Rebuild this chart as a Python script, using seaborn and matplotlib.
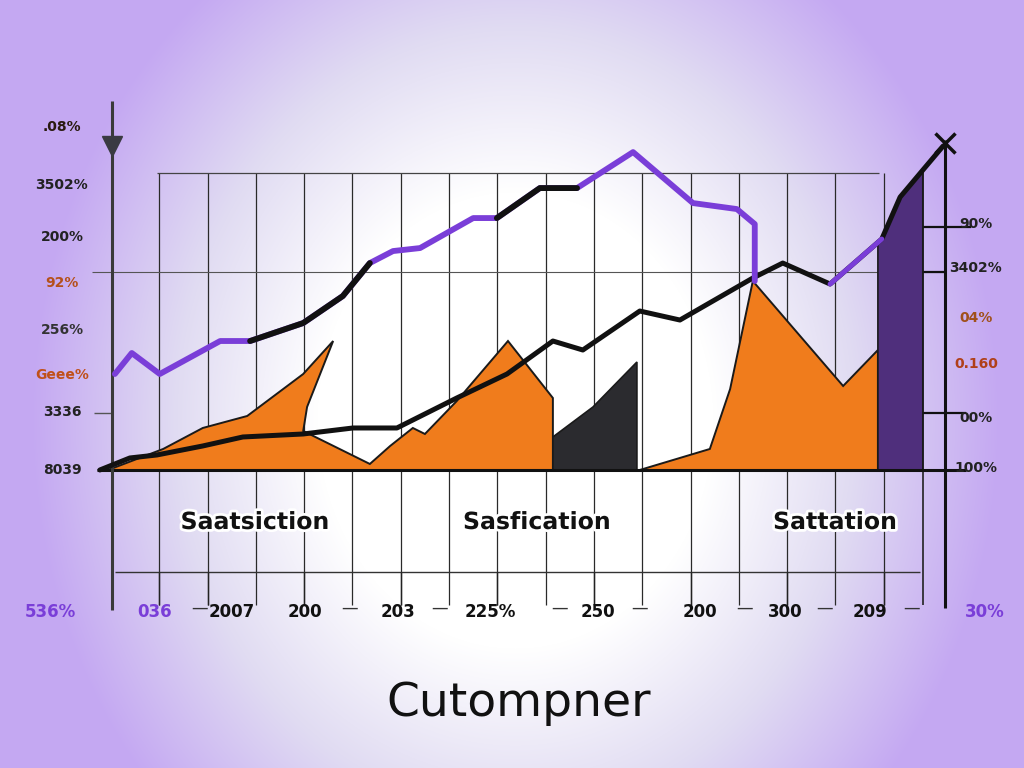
import numpy as np
import matplotlib.pyplot as plt
import matplotlib.patheffects as pe
import seaborn as sns

# ---- data ----
# upper line, mostly purple
line_a_x = [0.08, 0.43, 1.01, 2.26, 2.88, 3.98, 4.80, 5.36, 5.84, 6.40, 7.50, 7.99,
            8.88, 9.65, 10.81, 12.05, 12.96, 13.33, 13.33]
line_a_y = [32, 39, 32, 43, 43, 49, 58, 69, 73, 74, 84, 84, 94, 94, 106, 89, 87, 82, 63]
# lower black line
line_b_x = [-0.23, 0.39, 0.95, 1.90, 2.73, 3.98, 5.01, 5.92, 7.16, 8.20, 9.15, 9.77,
            10.95, 11.78, 13.29, 13.91, 14.89, 15.96, 16.34, 16.81, 17.23]
line_b_y = [0, 4, 5, 8, 11, 12, 14, 14, 24, 32, 43, 40, 53, 50, 64, 69, 62, 77, 91, 100, 108]

# filled areas
orange1_x = [-0.06, 1.08, 1.90, 2.82, 3.98, 4.60, 4.06, 3.98, 5.36, 5.78, 6.25, 6.50,
             7.16, 8.22, 9.15, 9.15]
orange1_y = [0, 7, 14, 18, 32, 43, 21, 13, 2, 8, 14, 12, 23, 43, 24, 0]
grey_x = [9.15, 9.98, 10.89, 10.89, 9.15]
grey_y = [11, 21, 36, 0, 0]
orange2_x = [10.95, 12.40, 12.82, 13.29, 15.16, 15.88, 15.88]
orange2_y = [0, 7, 27, 63, 28, 40, 0]
violet_x = [15.88, 15.88, 15.96, 16.34, 16.81, 16.81]
violet_y = [0, 76, 77, 91, 100, 0]

left_labels = [".08%", "3502%", "200%", "92%", "256%", "Geee%", "3336", "8039"]
right_labels = ["90%", "3402%", "04%", "0.160", "00%", "100%"]
bottom_labels = ["536%", "036", "2007", "200", "203", "225%", "250", "200", "300", "209", "30%"]
section_labels = ["Saatsiction", "Sasfication", "Sattation"]
title = "Cutompner"

ORANGE = "#f07c1c"
PURPLE = "#7a3ed8"
DARK_VIOLET = "#4f2f7c"

sns.set_theme(style="white")
plt.rcParams['font.family'] = ['DejaVu Sans']

fig = plt.figure(figsize=(10.24, 7.68), dpi=100)

# radial lavender background: white centre, greyish lavender, then lilac edges
bg = fig.add_axes([0, 0, 1, 1])
X, Y = np.meshgrid(np.arange(1024), np.arange(768))
r = np.sqrt(((X - 515) / 520.0) ** 2 + ((Y - 420) / 600.0) ** 2)
t = np.clip((r - 0.38) / 0.55, 0, 1)[..., None]
mid = np.array([0.88, 0.86, 0.95])
lav = np.array([0.77, 0.66, 0.95])
t1 = np.clip(t * 2, 0, 1)
t2 = np.clip(t * 2 - 1, 0, 1)
img = (1 - t1) * np.ones(3) + t1 * mid
img = (1 - t2) * img + t2 * lav
bg.imshow(img, extent=[0, 1024, 768, 0], aspect='auto')
bg.set_xlim(0, 1024)
bg.set_ylim(768, 0)
bg.axis('off')

# main axes: pixel 90..960 horizontally, 120..640 vertically
ax = fig.add_axes([90 / 1024, 128 / 768, 870 / 1024, 520 / 768])
ax.patch.set_alpha(0)
ax.set_xlim(-0.435, 17.58)
ax.set_ylim(-56.7, 116.7)
for s in ax.spines.values():
    s.set_visible(False)
ax.set_xticks([])
ax.set_yticks([])

# grid
ax.vlines(range(1, 17), -45, 99, color="#2a2a2a", lw=0.9, zorder=1)
ax.vlines(16.82, -45, 101, color="#222", lw=1.2, zorder=1)
ax.hlines(99, 0.95, 15.9, color="#444", lw=0.9, zorder=1)
ax.hlines(66, -0.4, 17.27, color="#555", lw=0.8, zorder=1)
ax.hlines(-34, 0.08, 16.75, color="#333", lw=1.0, zorder=1)
ax.hlines(19, -0.35, 0.02, color="#555", lw=1.0, zorder=1)
for yy, x1 in [(81, 17.8), (66, 17.27), (19, 17.7)]:
    ax.hlines(yy, 16.82, x1, color="#111", lw=1.6, zorder=1, clip_on=False)

# fills
ax.fill(orange1_x, orange1_y, facecolor=ORANGE, edgecolor="#1a1a1a", lw=1.4, zorder=2)
ax.fill(grey_x, grey_y, facecolor="#2b2b2f", edgecolor="#1a1a1a", lw=1.2, zorder=2)
ax.fill(orange2_x, orange2_y, facecolor=ORANGE, edgecolor="#1a1a1a", lw=1.4, zorder=2)
ax.fill(violet_x, violet_y, facecolor=DARK_VIOLET, edgecolor="#1a1a1a", lw=1.2, zorder=2)

# baseline and axes lines
ax.hlines(0, -0.3, 17.7, color="#111", lw=2.2, zorder=4, clip_on=False)
ax.vlines(0.02, -46.7, 123, color="#3a3a3a", lw=2.2, zorder=4, clip_on=False)
ax.vlines(17.27, -46, 110, color="#111", lw=2.2, zorder=4, clip_on=False)
ax.plot([0.02], [108], marker="v", ms=14, color="#3a3a42", zorder=5, clip_on=False)
ax.plot([17.27], [109], marker="x", ms=14, mew=2.5, color="#111", zorder=6, clip_on=False)

# lines
sns.lineplot(x=line_b_x, y=line_b_y, sort=False, estimator=None, color="#111",
             lw=3.6, ax=ax, zorder=5)
sns.lineplot(x=line_b_x[16:18], y=line_b_y[16:18], sort=False, estimator=None,
             color=PURPLE, lw=3.6, ax=ax, zorder=6)
sns.lineplot(x=line_a_x, y=line_a_y, sort=False, estimator=None, color=PURPLE,
             lw=4.2, ax=ax, zorder=5)
sns.lineplot(x=line_a_x[4:8], y=line_a_y[4:8], sort=False, estimator=None, color="#111",
             lw=4.2, ax=ax, zorder=6)
sns.lineplot(x=line_a_x[11:14], y=line_a_y[11:14], sort=False, estimator=None,
             color="#111", lw=4.2, ax=ax, zorder=6)

# small ticks below the lower grid line
for xx in [1.0, 2.0, 4.0, 6.0, 8.0, 10.0, 12.0, 14.0, 16.0]:
    ax.vlines(xx, -45, -34, color="#222", lw=1.0, zorder=1)


def ftext(px, py, s, **kw):
    fig.text(px / 1024, 1 - py / 768, s, **kw)


# left labels
left_py = [127, 185, 237, 283, 330, 375, 412, 470]
left_col = ["#2a1a10", "#222", "#222", "#b5501a", "#333", "#c0501a", "#222", "#222"]
for lab, py, c in zip(left_labels, left_py, left_col):
    ftext(62, py, lab, ha="center", va="center", fontsize=10, color=c, fontweight="bold")

right_py = [224, 268, 318, 364, 418, 468]
right_col = ["#222", "#222", "#a0501a", "#b0401a", "#222", "#222"]
for lab, py, c in zip(right_labels, right_py, right_col):
    ftext(976, py, lab, ha="center", va="center", fontsize=10, color=c, fontweight="bold")

bottom_px = [50, 155, 232, 305, 398, 490, 598, 700, 785, 870, 985]
bottom_col = [PURPLE, PURPLE] + ["#111"] * 8 + [PURPLE]
for lab, px, c in zip(bottom_labels, bottom_px, bottom_col):
    ftext(px, 612, lab, ha="center", va="center", fontsize=12, color=c, fontweight="bold")
for px in [200, 350, 440, 560, 640, 745, 825, 912]:
    ftext(px, 608, "—", ha="center", va="center", fontsize=12, color="#333")

for lab, px in zip(section_labels, [255, 537, 835]):
    ftext(px, 522, lab, ha="center", va="center", fontsize=17, fontweight="bold",
          color="#111", path_effects=[pe.withStroke(linewidth=4, foreground="white")])

ftext(519, 703, title, ha="center", va="center", fontsize=34, color="#111")

fig.savefig("out.png", dpi=100)
